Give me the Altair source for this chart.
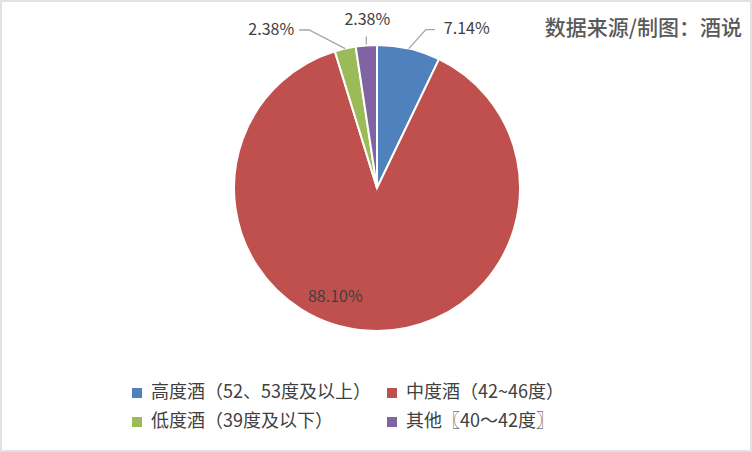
import math
import altair as alt
import pandas as pd

# ---- data ----
categories = ["高度酒（52、53度及以上）", "中度酒（42~46度）", "低度酒（39度及以下）", "其他〖40～42度〗"]
shares = [7.14, 88.10, 2.38, 2.38]
labels = ["7.14%", "88.10%", "2.38%", "2.38%"]
colors = ["#4F81BD", "#C0504D", "#9BBB59", "#8064A2"]
source_note = "数据来源/制图：酒说"

# ---- layout constants ----
W, H = 752, 452
CX, CY, R = 376, 187, 143
FONT = "Noto Sans CJK SC"
TXT = "#404040"

df = pd.DataFrame({"cat": categories, "share": shares, "label": labels, "order": range(len(shares))})

# mid-angles of the slices (computed from the data)
total = sum(shares)
cum = 0.0
mids = []
for v in shares:
    mids.append((cum + v / 2) / total * 2 * math.pi)
    cum += v
edge = [(CX + R * math.sin(a), CY - R * math.cos(a)) for a in mids]

# leader-line elbows and label anchors as offsets from slice edge (layout only)
line_offsets = {0: [(0, 0), (17, -19), (26, -19)],
                2: [(0, 0), (-36, -18.6), (-46, -18.6)],
                3: [(0, -1), (0, -9)]}
label_offsets = {0: (35, -19.5, "left"), 1: (-31, -34, "center"),
                 2: (-51, -18.6, "right"), 3: (1, -25.5, "center")}

line_rows = []
for i, offs in line_offsets.items():
    for k, (dx, dy) in enumerate(offs):
        line_rows.append({"cat": categories[i], "k": k, "px": edge[i][0] + dx, "py": edge[i][1] + dy})
lines_df = pd.DataFrame(line_rows)

lab_rows = []
for i, (dx, dy, al) in label_offsets.items():
    lab_rows.append({"label": labels[i], "px": edge[i][0] + dx, "py": edge[i][1] + dy, "align": al})
lab_df = pd.DataFrame(lab_rows)

# legend is laid out column-first, so order the domain to read row-wise like the original
legend_order = [categories[0], categories[2], categories[1], categories[3]]
color_scale = alt.Scale(domain=legend_order, range=[colors[0], colors[2], colors[1], colors[3]])

pie = alt.Chart(df).mark_arc(outerRadius=R, stroke="white", strokeWidth=2).encode(
    theta=alt.Theta("share:Q", stack=True),
    order=alt.Order("order:O"),
    color=alt.Color(
        "cat:N", scale=color_scale, sort=legend_order,
        legend=alt.Legend(
            title=None, orient="none", legendX=127, legendY=383, columns=2,
            symbolType="square", symbolSize=100, symbolStrokeWidth=0,
            labelFont=FONT, labelFontSize=18, labelColor=TXT, labelLimit=400,
            rowPadding=11, columnPadding=12, labelOffset=5,
        ),
    ),
    x=alt.value(CX),
    y=alt.value(CY),
)

leaders = alt.Chart(lines_df).mark_line(color="#A6A6A6", strokeWidth=1.3).encode(
    x=alt.X("px:Q", scale=None),
    y=alt.Y("py:Q", scale=None),
    detail="cat:N",
    order="k:O",
)

text_layers = []
for al in ["left", "center", "right"]:
    text_layers.append(
        alt.Chart(lab_df).transform_filter(alt.datum.align == al).mark_text(
            align=al, baseline="middle", font=FONT, fontSize=16, color=TXT
        ).encode(x=alt.X("px:Q", scale=None), y=alt.Y("py:Q", scale=None), text="label:N")
    )

note = alt.Chart(pd.DataFrame({"t": [source_note]})).mark_text(
    align="right", baseline="middle", font=FONT, fontSize=21, fontWeight=500, color="#595959"
).encode(x=alt.value(741), y=alt.value(28), text="t:N")

chart = alt.layer(pie, leaders, *text_layers, note).properties(
    width=W - 2, height=H - 2, padding={"left": 1, "top": 1, "right": 1, "bottom": 1},
    autosize=alt.AutoSizeParams(type="none"), background="white",
).configure_view(stroke="#D9D9D9", strokeWidth=1.5)

chart.save("out.html", embed_options={"renderer": "svg", "actions": False})
